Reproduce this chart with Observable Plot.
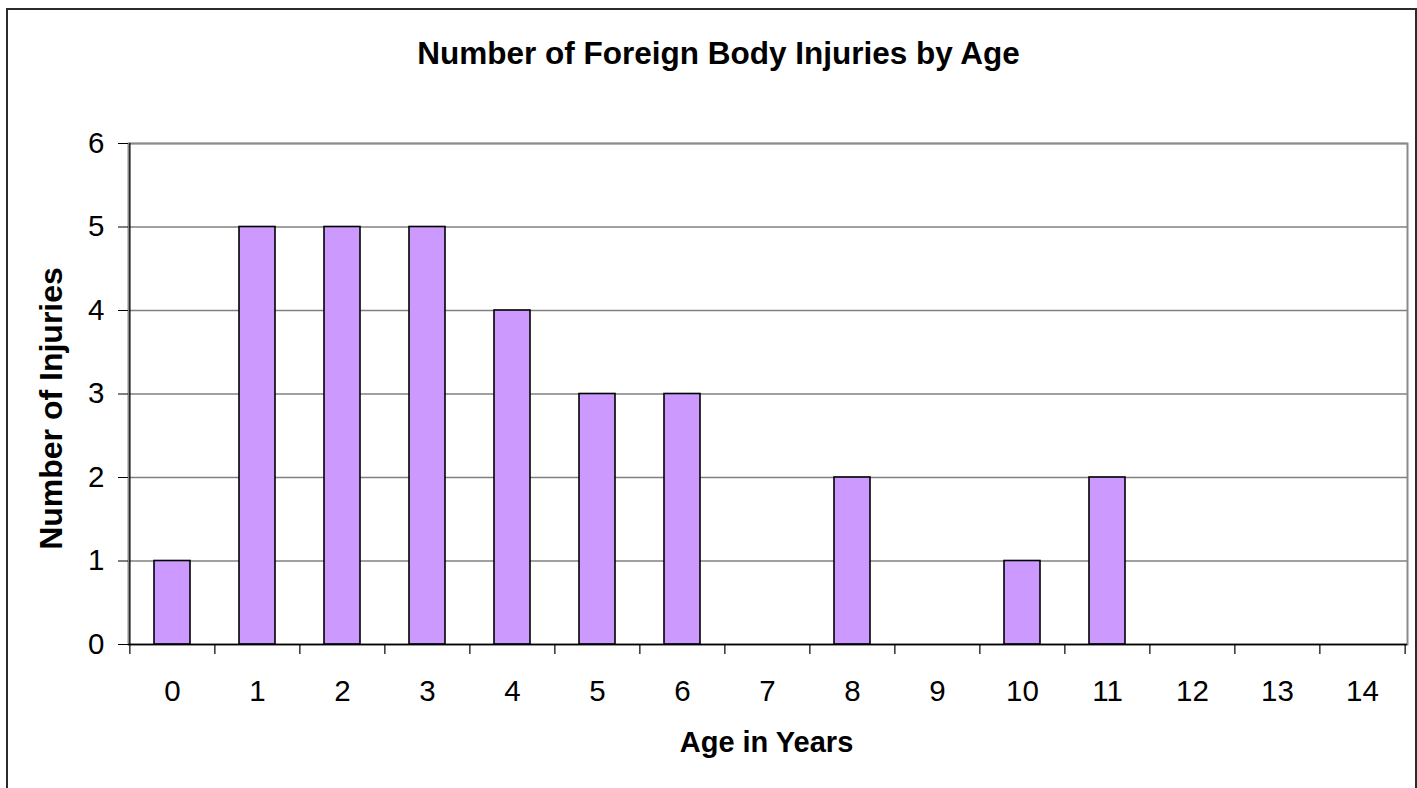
<!DOCTYPE html>
<html>
<head>
<meta charset="utf-8">
<script src="https://cdn.jsdelivr.net/npm/d3@7"></script>
<script src="https://cdn.jsdelivr.net/npm/@observablehq/plot@0.6"></script>
<style>
  html, body { margin: 0; padding: 0; background: #fff; }
  #wrap { position: relative; width: 1417px; height: 788px; overflow: hidden; background: #fff; }
  #border { position: absolute; left: 6px; top: 8px; width: 1411px; height: 900px; box-sizing: border-box;
            border: 2px solid #2b2b2b; pointer-events: none; }
  #wrap svg { position: absolute; left: 0; top: 0; }
</style>
</head>
<body>
<div id="wrap"><div id="border"></div></div>
<script>
// ---- data ----
const ages = ["0","1","2","3","4","5","6","7","8","9","10","11","12","13","14"];
const injuries = [1, 5, 5, 5, 4, 3, 3, 0, 2, 0, 1, 2, 0, 0, 0];
const yTicks = [0, 1, 2, 3, 4, 5, 6];
const title = "Number of Foreign Body Injuries by Age";
const xLabel = "Age in Years";
const yLabel = "Number of Injuries";

// ---- layout ----
const W = 1417, H = 788, ML = 128, MR = 10, MT = 143, MB = 144;
const step = (W - ML - MR) / ages.length;
const font = "'Liberation Sans', Arial, Helvetica, sans-serif";

const data = ages.map((a, i) => ({age: a, count: injuries[i]}));

const chart = Plot.plot({
  width: W,
  height: H,
  marginLeft: ML,
  marginRight: MR,
  marginTop: MT,
  marginBottom: MB,
  style: {fontFamily: font, background: "transparent", color: "#000", overflow: "visible"},
  x: {type: "band", domain: ages, paddingInner: 0.573, paddingOuter: 0.2865, axis: null},
  y: {domain: [0, 6], axis: null},
  marks: [
    Plot.ruleY(yTicks.filter(v => v > 0), {y: d => d, stroke: "#808080", strokeWidth: 1.3}),
    Plot.frame({stroke: "#8a8a8a", strokeWidth: 2}),
    Plot.barY(data.filter(d => d.count > 0), {x: "age", y: "count", fill: "#CC99FF", stroke: "#000", strokeWidth: 1.6}),
    Plot.ruleY([0], {y: d => d, stroke: "#000", strokeWidth: 1.3}),
    Plot.ruleX([ages[0]], {x: d => d, dx: -step / 2, stroke: "#000", strokeWidth: 1.3}),
    Plot.ruleX(ages, {x: d => d, dx: -step / 2, y1: 0, y2: 0, insetBottom: -10, stroke: "#000", strokeWidth: 1.2}),
    Plot.ruleX([ages[ages.length - 1]], {x: d => d, dx: step / 2, y1: 0, y2: 0, insetBottom: -10, stroke: "#000", strokeWidth: 1.2}),
    Plot.axisY(yTicks, {tickSize: 10, tickPadding: 14, fontSize: 29.5, tickFormat: "d", label: null, stroke: "#000"}),
    Plot.axisX({tickSize: 0, tickPadding: 36, fontSize: 29.5, label: null}),
    Plot.text([title], {text: d => d, frameAnchor: "top-left", dx: 718 - ML, dy: 53.5 - MT,
      fontSize: 31.5, fontWeight: "bold", textAnchor: "middle", lineAnchor: "middle"}),
    Plot.text([xLabel], {text: d => d, frameAnchor: "bottom-left", dx: 766 - ML, dy: 742 - (H - MB),
      fontSize: 29, fontWeight: "bold", textAnchor: "middle", lineAnchor: "middle"}),
    Plot.text([yLabel], {text: d => d, frameAnchor: "top-left", dx: 51 - ML, dy: 408 - MT,
      fontSize: 32, fontWeight: "bold", textAnchor: "middle", lineAnchor: "middle", rotate: -90})
  ]
});
document.getElementById("wrap").insertBefore(chart, document.getElementById("border"));
</script>
</body>
</html>
